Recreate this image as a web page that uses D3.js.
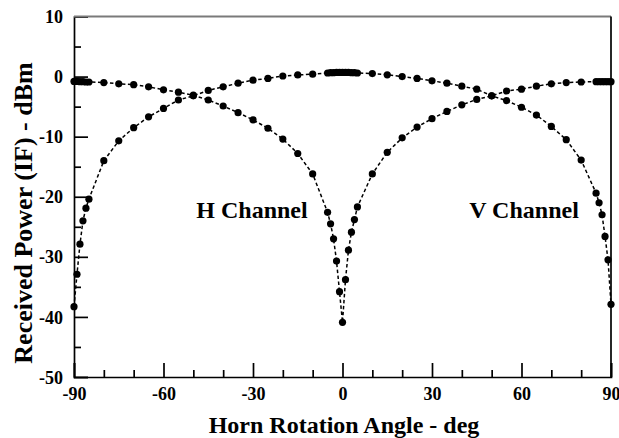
<!DOCTYPE html>
<html><head><meta charset="utf-8">
<script src="https://cdn.jsdelivr.net/npm/d3@7"></script>
<style>body{margin:0;background:#fff}svg{display:block}text{font-family:"Liberation Serif","Times New Roman",serif !important;font-weight:bold}</style>
</head><body><svg id="c" width="619" height="438"></svg>
<script>
const hAngles = [-90,-89,-88,-87,-86,-85,-80,-75,-70,-65,-60,-55,-50,-45,-40,-35,-30,-25,-20,-15,-10,-5,-4,-3,-2,-1,0,1,2,3,4,5,10,15,20,25,30,35,40,45,50,55,60,65,70,75,80,85,86,87,88,89,90];
const hValues = [-0.8,-0.8,-0.85,-0.85,-0.9,-0.9,-1.0,-1.2,-1.35,-1.7,-2.2,-2.6,-3.1,-3.9,-4.9,-6.0,-7.2,-8.6,-10.4,-12.8,-16.2,-22.6,-24.5,-27.0,-30.7,-35.8,-40.9,-33.8,-28.9,-25.9,-23.8,-21.7,-16.2,-12.6,-10.2,-8.4,-7.0,-5.8,-4.7,-3.8,-3.2,-2.4,-2.1,-1.6,-1.2,-1.0,-0.9,-0.85,-0.85,-0.85,-0.85,-0.85,-0.85];
const vAngles = [-90,-89,-88,-87,-86,-85,-80,-75,-70,-65,-60,-55,-50,-45,-40,-35,-30,-25,-20,-15,-10,-5,-4,-3,-2,-1,0,1,2,3,4,5,10,15,20,25,30,35,40,45,50,55,60,65,70,75,80,85,86,87,88,89,90];
const vValues = [-38.3,-32.9,-27.9,-24.0,-21.9,-20.4,-14.0,-10.7,-8.5,-6.7,-5.3,-3.9,-3.2,-2.3,-1.7,-1.1,-0.6,-0.3,0.1,0.27,0.4,0.6,0.65,0.65,0.7,0.7,0.7,0.7,0.7,0.65,0.65,0.6,0.5,0.3,0.0,-0.3,-0.7,-1.1,-1.6,-2.1,-3.2,-4.0,-5.1,-6.4,-8.3,-10.5,-13.9,-19.4,-21.0,-23.0,-26.6,-30.5,-37.9];
const xTicks = [-90,-60,-30,0,30,60,90];
const xMinor = [-80,-70,-50,-40,-20,-10,10,20,40,50,70,80];
const yTicks = [10,0,-10,-20,-30,-40,-50];
const yMinor = [5,-5,-15,-25,-35,-45];
const seriesLabels = ["H Channel","V Channel"];
const xTitle = "Horn Rotation Angle - deg";
const yTitle = "Received Power (IF) - dBm";

const svg = d3.select("#c");
const L=74, R=611, T=16.5, B=377;
const x = d3.scaleLinear().domain([-90,90]).range([L,R]);
const y = d3.scaleLinear().domain([-50,10]).range([B,T]);
const fmt = d => String(d);

const gx = svg.append("g").attr("transform",`translate(0,${B})`)
  .call(d3.axisBottom(x).tickValues(xTicks).tickSize(-14).tickPadding(20).tickFormat(fmt));
svg.append("g").attr("transform",`translate(0,${B})`)
  .call(d3.axisBottom(x).tickValues(xMinor).tickSize(-7).tickFormat(""))
  .select(".domain").remove();
const gy = svg.append("g").attr("transform",`translate(${L},0)`)
  .call(d3.axisLeft(y).tickValues(yTicks).tickSize(-14).tickPadding(11).tickFormat(fmt));
svg.append("g").attr("transform",`translate(${L},0)`)
  .call(d3.axisLeft(y).tickValues(yMinor).tickSize(-7).tickFormat(""))
  .select(".domain").remove();
svg.selectAll(".domain").attr("stroke","#000").attr("stroke-width",1.7);
svg.selectAll(".tick line").attr("stroke","#000").attr("stroke-width",1.7);
svg.selectAll(".tick text").attr("font-size",18).attr("fill","#000");
gx.selectAll(".tick text").attr("dy","0").attr("y",23);
gy.selectAll(".tick text").attr("dy","0.34em");
svg.append("line").attr("x1",L).attr("x2",R).attr("y1",T).attr("y2",T).attr("stroke","#7a7a7a").attr("stroke-width",2.2);
svg.append("line").attr("x1",R).attr("x2",R).attr("y1",T).attr("y2",B).attr("stroke","#000").attr("stroke-width",1.7);

const line = d3.line().x(d=>x(d[0])).y(d=>y(d[1]));
function series(a,v){
  const data = a.map((d,i)=>[d,v[i]]);
  svg.append("path").datum(data).attr("d",line).attr("fill","none").attr("stroke","#000").attr("stroke-width",1.5).attr("stroke-dasharray","3.5,2.5");
  svg.append("g").selectAll("circle").data(data).join("circle")
    .attr("cx",d=>x(d[0])).attr("cy",d=>y(d[1])).attr("r",3.6).attr("fill","#000");
}
series(hAngles,hValues);
series(vAngles,vValues);

svg.append("text").attr("x",252).attr("y",218).attr("text-anchor","middle").attr("font-size",24).text(seriesLabels[0]);
svg.append("text").attr("x",524).attr("y",218).attr("text-anchor","middle").attr("font-size",24).text(seriesLabels[1]);
svg.append("text").attr("x",344).attr("y",433).attr("text-anchor","middle").attr("font-size",24).text(xTitle);
svg.append("text").attr("transform",`translate(32,213) rotate(-90)`).attr("text-anchor","middle").attr("font-size",26).text(yTitle);
</script></body></html>
